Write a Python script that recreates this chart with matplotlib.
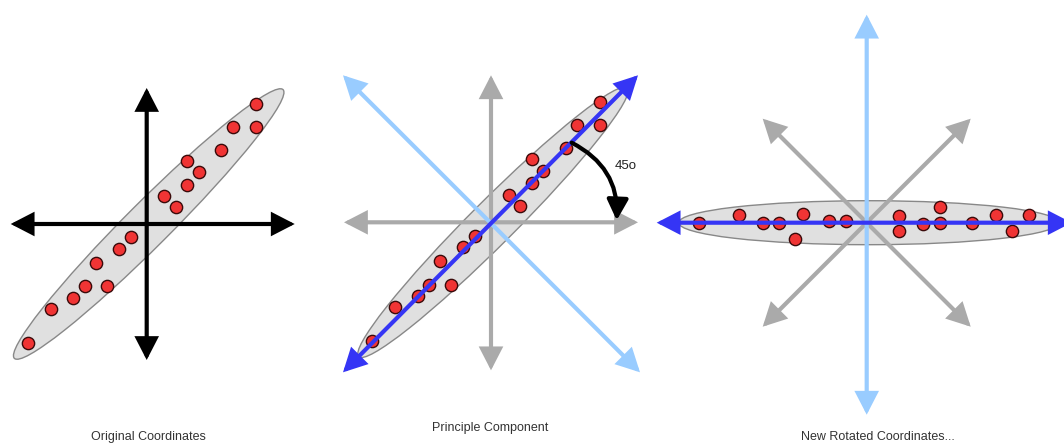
import numpy as np
import matplotlib.pyplot as plt
from matplotlib.patches import Ellipse, FancyArrowPatch

plt.rcParams['font.family'] = ['Liberation Sans', 'DejaVu Sans']

# data points, relative to the origin of the original axes (y up)
pts_x = [109, 86.3, 109, 74.6, 40.6, 52, 40.6, 17.6, 29,
         -16, -27.7, -50.7, -61.7, -39.7, -73.4, -96, -118.7]
pts_y = [120, 97, 97, 74.3, 63.3, 51.7, 39, 27.7, 16.7,
         -13.3, -25, -38.7, -62.3, -62.3, -73.7, -84.7, -119]
angle_deg = 45
titles = ["Original Coordinates", "Principle Component", "New Rotated Coordinates..."]

W, H = 1064, 447
fig = plt.figure(figsize=(W / 100, H / 100), dpi=100)
ax = fig.add_axes([0, 0, 1, 1])
ax.set_xlim(0, W)
ax.set_ylim(0, H)
ax.axis('off')

RED = '#f03434'
GRAY = '#aaaaaa'
LBLUE = '#99ccff'
BLUE = '#3535f5'

def arrow(p, q, color, lw=3, z=3, hl=0.62, hw=0.32):
    a = FancyArrowPatch(p, q, arrowstyle='<|-|>,head_length=%s,head_width=%s' % (hl, hw),
                        mutation_scale=20, color=color, lw=lw, zorder=z,
                        shrinkA=0, shrinkB=0, joinstyle='miter')
    ax.add_patch(a)

def cloud(cx, cy, ang):
    ax.add_patch(Ellipse((cx + 2, cy), 380, 44, angle=ang, facecolor='#e0e0e0',
                         edgecolor='#888888', lw=1, zorder=1))

px = np.array(pts_x)
py = np.array(pts_y)
dot = dict(s=78, c=RED, edgecolors='#3a0a0a', linewidths=1, zorder=5)

# panel 1
c1 = (146.7, 223)
cloud(*c1, angle_deg)
arrow((c1[0] - 136, c1[1]), (c1[0] + 148, c1[1]), 'black')
arrow((c1[0], c1[1] - 136), (c1[0], c1[1] + 136), 'black')
ax.scatter(c1[0] + px, c1[1] + py, **dot)

# panel 2
c2 = (491, 224.7)
cloud(*c2, angle_deg)
arrow((c2[0] - 147, c2[1]), (c2[0] + 147, c2[1]), GRAY)
arrow((c2[0], c2[1] - 148), (c2[0], c2[1] + 147), GRAY)
arrow((c2[0] - 148, c2[1] + 147), (c2[0] + 149, c2[1] - 150), LBLUE, z=4)
ax.scatter(c2[0] + px, c2[1] + py, **dot)
arrow((c2[0] - 148, c2[1] - 150), (c2[0] + 147, c2[1] + 147), BLUE, z=6)
arc = FancyArrowPatch((c2[0] + 80.7, c2[1] + 79.6), (c2[0] + 125.7, c2[1] + 2),
                      arrowstyle='-|>,head_length=0.62,head_width=0.32', mutation_scale=20,
                      connectionstyle='arc3,rad=-0.32', color='black', lw=3, zorder=7,
                      shrinkA=0, shrinkB=0)
ax.add_patch(arc)
ax.text(c2[0] + 135, c2[1] + 56, '45o', fontsize=9.5, color='#222222',
        ha='center', va='center')

# panel 3: data rotated onto the principal component
c3 = (866.7, 224.3)
t = np.deg2rad(angle_deg)
rx = px * np.cos(t) + py * np.sin(t)
ry = -px * np.sin(t) + py * np.cos(t)
cloud(*c3, 0)
d = 104
arrow((c3[0] - d, c3[1] - d), (c3[0] + d, c3[1] + d), GRAY)
arrow((c3[0] - d, c3[1] + d), (c3[0] + d, c3[1] - d), GRAY)
arrow((c3[0], c3[1] - 192), (c3[0], c3[1] + 208), LBLUE, z=4)
ax.scatter(c3[0] + rx, c3[1] + ry, **dot)
arrow((c3[0] - 210, c3[1]), (c3[0] + 205, c3[1]), BLUE, z=6)

# captions
ax.text(148, H - 437, titles[0], fontsize=9, color='#333333', ha='center', va='center')
ax.text(490, H - 428, titles[1], fontsize=9, color='#333333', ha='center', va='center')
ax.text(878, H - 437, titles[2], fontsize=9, color='#333333', ha='center', va='center')

fig.savefig('out.png', dpi=100, facecolor='white')
